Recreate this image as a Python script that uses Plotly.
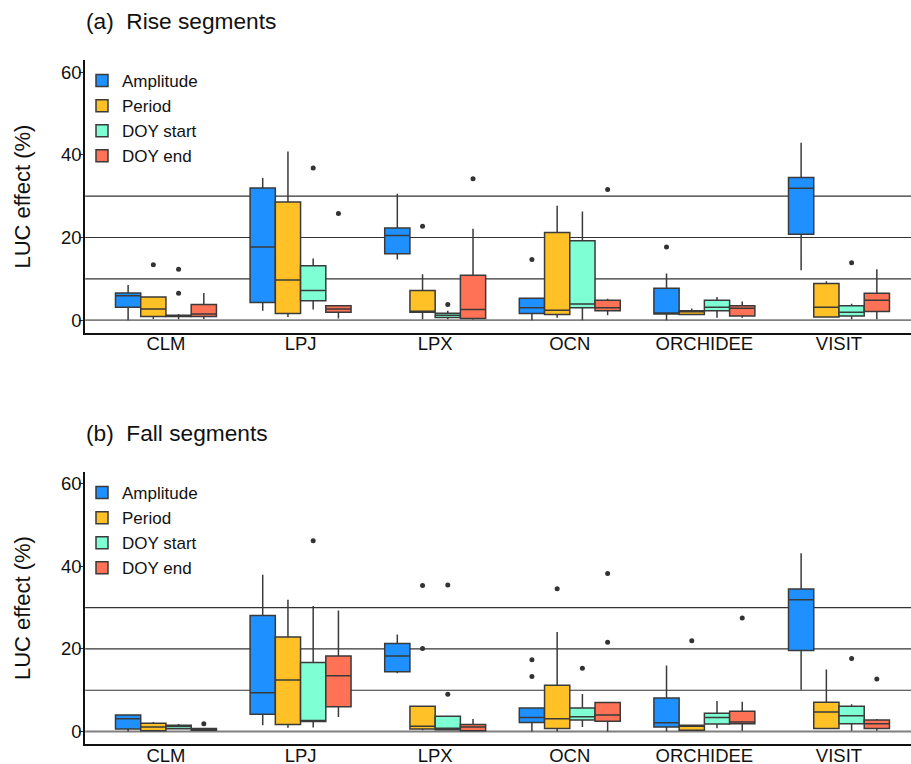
import plotly.graph_objects as go

# ---------------- data ----------------
models = ["CLM", "LPJ", "LPX", "OCN", "ORCHIDEE", "VISIT"]
series = ["Amplitude", "Period", "DOY start", "DOY end"]
colors = {"Amplitude": "#1E90FF", "Period": "#FFC125",
          "DOY start": "#7FFFD4", "DOY end": "#FF7256"}
y_ticks = [0, 20, 40, 60]
ref_lines = [10, 20, 30]

# (a) Rise segments
rise_lo = {"Amplitude": [0.0, 2.3, 14.7, 0.0, 0.0, 12.1],
           "Period":    [0.3, 0.8, 0.2, 0.6, 1.4, 0.6],
           "DOY start": [0.2, 2.6, 0.2, 0.0, 0.6, 0.2],
           "DOY end":   [0.3, 0.4, 0.1, 1.2, 0.6, 0.2]}
rise_q1 = {"Amplitude": [3.1, 4.3, 16.1, 1.6, 1.5, 20.8],
           "Period":    [0.9, 1.6, 1.9, 1.4, 1.4, 0.8],
           "DOY start": [0.9, 4.7, 0.65, 3.0, 2.3, 1.0],
           "DOY end":   [0.9, 1.9, 0.4, 2.3, 1.0, 2.1]}
rise_med = {"Amplitude": [5.9, 17.7, 20.5, 3.0, 1.7, 31.9],
            "Period":    [2.7, 9.7, 2.0, 2.4, 2.1, 3.1],
            "DOY start": [1.0, 7.2, 1.2, 3.9, 3.1, 1.9],
            "DOY end":   [1.5, 2.7, 2.6, 3.0, 2.9, 4.8]}
rise_q3 = {"Amplitude": [6.6, 32.0, 22.3, 5.3, 7.7, 34.5],
           "Period":    [5.6, 28.6, 7.2, 21.2, 2.3, 8.9],
           "DOY start": [1.2, 13.2, 1.7, 19.2, 4.8, 3.5],
           "DOY end":   [3.8, 3.5, 10.9, 4.8, 3.5, 6.5]}
rise_hi = {"Amplitude": [8.5, 34.4, 30.6, 5.3, 11.3, 42.9],
           "Period":    [5.6, 40.8, 11.1, 27.7, 2.8, 9.4],
           "DOY start": [1.5, 14.9, 2.3, 26.3, 5.6, 4.0],
           "DOY end":   [6.6, 3.5, 22.1, 5.2, 4.5, 12.3]}
rise_out = {"Amplitude": [[], [], [], [14.7], [17.7], []],
            "Period":    [[13.4], [], [22.7], [], [], []],
            "DOY start": [[6.5, 12.3], [36.8], [3.8], [], [], [13.9]],
            "DOY end":   [[], [25.8], [34.2], [31.6], [], []]}

# (b) Fall segments
fall_lo = {"Amplitude": [0.0, 1.5, 14.1, 0.0, 0.0, 10.1],
           "Period":    [0.0, 0.9, 0.3, 0.0, 0.2, 0.7],
           "DOY start": [0.6, 1.0, 0.3, 1.1, 0.8, 0.2],
           "DOY end":   [0.3, 3.5, 0.2, 0.0, 0.2, 0.2]}
fall_q1 = {"Amplitude": [0.6, 4.2, 14.5, 2.2, 1.1, 19.6],
           "Period":    [0.2, 1.7, 0.6, 0.7, 0.3, 0.7],
           "DOY start": [0.65, 2.4, 0.4, 2.8, 1.8, 1.9],
           "DOY end":   [0.3, 6.0, 0.2, 2.5, 1.9, 0.7]}
fall_med = {"Amplitude": [3.1, 9.4, 18.3, 3.4, 2.1, 31.9],
            "Period":    [1.1, 12.5, 1.3, 3.1, 1.3, 4.7],
            "DOY start": [1.2, 2.5, 0.8, 3.6, 3.4, 3.8],
            "DOY end":   [0.5, 13.5, 1.1, 4.0, 2.3, 1.9]}
fall_q3 = {"Amplitude": [4.0, 28.1, 21.3, 5.7, 8.1, 34.5],
           "Period":    [2.0, 22.9, 6.1, 11.2, 1.5, 7.1],
           "DOY start": [1.5, 16.7, 3.7, 5.7, 4.4, 6.1],
           "DOY end":   [0.7, 18.3, 1.7, 7.0, 4.9, 2.8]}
fall_hi = {"Amplitude": [4.2, 38.0, 23.5, 5.7, 16.0, 43.2],
           "Period":    [2.3, 31.9, 6.1, 24.1, 1.5, 15.0],
           "DOY start": [1.8, 30.4, 3.7, 9.1, 7.4, 6.6],
           "DOY end":   [0.7, 29.3, 3.0, 7.0, 7.2, 3.0]}
fall_out = {"Amplitude": [[], [], [], [13.3, 17.4], [], []],
            "Period":    [[], [], [20.1, 35.4], [34.6], [22.0], []],
            "DOY start": [[], [46.2], [9.0, 35.5], [15.3], [], [17.7]],
            "DOY end":   [[1.9], [], [], [21.6, 38.3], [27.5], [12.7]]}

panels = [
    ("(a)  Rise segments", rise_lo, rise_q1, rise_med, rise_q3, rise_hi, rise_out),
    ("(b)  Fall segments", fall_lo, fall_q1, fall_med, fall_q3, fall_hi, fall_out),
]

# ---------------- layout geometry ----------------
W, H = 911, 764
FONT = "Liberation Sans, Arial, sans-serif"
box_w = 0.1875
x_range = [0.4, 6.535]
x_dom = [85.2 / W, 1.0]
y_doms = [[1 - 333 / H, 1 - 60 / H], [1 - 744.3 / H, 1 - 471.7 / H]]
y_range = [-3.1, 62.95]

fig = go.Figure()

for p, (title, lo, q1, med, q3, hi, out) in enumerate(panels):
    xa = "x" if p == 0 else "x2"
    ya = "y" if p == 0 else "y2"
    leg = "legend" if p == 0 else "legend2"
    for j, s in enumerate(series):
        off = (j - 1.5) * box_w
        xs = [i + 1 + off for i in range(len(models))]
        fig.add_trace(go.Box(
            x=xs, q1=q1[s], median=med[s], q3=q3[s],
            lowerfence=lo[s], upperfence=hi[s],
            width=box_w, whiskerwidth=0,
            fillcolor=colors[s],
            line=dict(color="#3a3a3a", width=1.5),
            name=s, legend=leg, xaxis=xa, yaxis=ya,
            boxpoints=False, hoverinfo="skip",
        ))
        ox, oy = [], []
        for i, vals in enumerate(out[s]):
            for v in vals:
                ox.append(i + 1 + off)
                oy.append(v)
        if ox:
            fig.add_trace(go.Scatter(
                x=ox, y=oy, mode="markers",
                marker=dict(color="#333333", size=5),
                showlegend=False, xaxis=xa, yaxis=ya, hoverinfo="skip",
            ))
    # reference lines
    for v in ref_lines:
        fig.add_shape(type="line", xref=f"{xa} domain", yref=ya,
                      x0=0, x1=1, y0=v, y1=v, layer="below",
                      line=dict(color="#333333", width=1.2))
    fig.add_shape(type="line", xref=f"{xa} domain", yref=ya,
                  x0=0, x1=1, y0=0, y1=0, layer="below",
                  line=dict(color="#7f7f7f", width=1.8))
    # panel title
    fig.add_annotation(text=title, xref="paper", yref="paper",
                       x=84 / W, y=y_doms[p][1] + 39 / H,
                       xanchor="left", yanchor="middle", showarrow=False,
                       font=dict(family=FONT, size=22.7, color="#111111"))
    # y-axis title
    fig.add_annotation(text="LUC effect (%)", xref="paper", yref="paper",
                       x=22 / W, y=(y_doms[p][0] + y_doms[p][1]) / 2,
                       textangle=-90, xanchor="center", yanchor="middle",
                       showarrow=False,
                       font=dict(family=FONT, size=22, color="#111111"))

axis_common = dict(showgrid=False, zeroline=False, showline=True,
                   linecolor="#111111", linewidth=2, automargin=False)

for p in range(2):
    sfx = "" if p == 0 else "2"
    fig.layout["xaxis" + sfx] = dict(
        axis_common, domain=x_dom, range=x_range,
        tickmode="array", tickvals=[i + 1 for i in range(len(models))],
        ticktext=models, ticks="", ticklabelstandoff=-7,
        tickfont=dict(family=FONT, size=18.5, color="#111111"),
        anchor="y" + sfx,
    )
    fig.layout["yaxis" + sfx] = dict(
        axis_common, domain=y_doms[p], range=y_range,
        tickmode="array", tickvals=y_ticks,
        ticks="outside", ticklen=4, tickwidth=1.2, tickcolor="#333333",
        ticklabelstandoff=-6,
        tickfont=dict(family=FONT, size=18.5, color="#111111"),
        anchor="x" + sfx,
    )

legend_common = dict(bgcolor="rgba(0,0,0,0)", borderwidth=0,
                     font=dict(family=FONT, size=17, color="#111111"),
                     xanchor="left", yanchor="top", itemwidth=30,
                     tracegroupgap=0)
fig.update_layout(
    width=W, height=H,
    margin=dict(l=0, r=0, t=0, b=0),
    paper_bgcolor="white", plot_bgcolor="white",
    boxmode="overlay",
    legend=dict(legend_common, x=82 / W, y=1 - 63 / H),
    legend2=dict(legend_common, x=82 / W, y=1 - 475 / H),
)

fig.write_html("out.html",
               config={"displayModeBar": False},
               post_script="document.body.style.margin='0px';"
                           "document.body.style.padding='0px';")
